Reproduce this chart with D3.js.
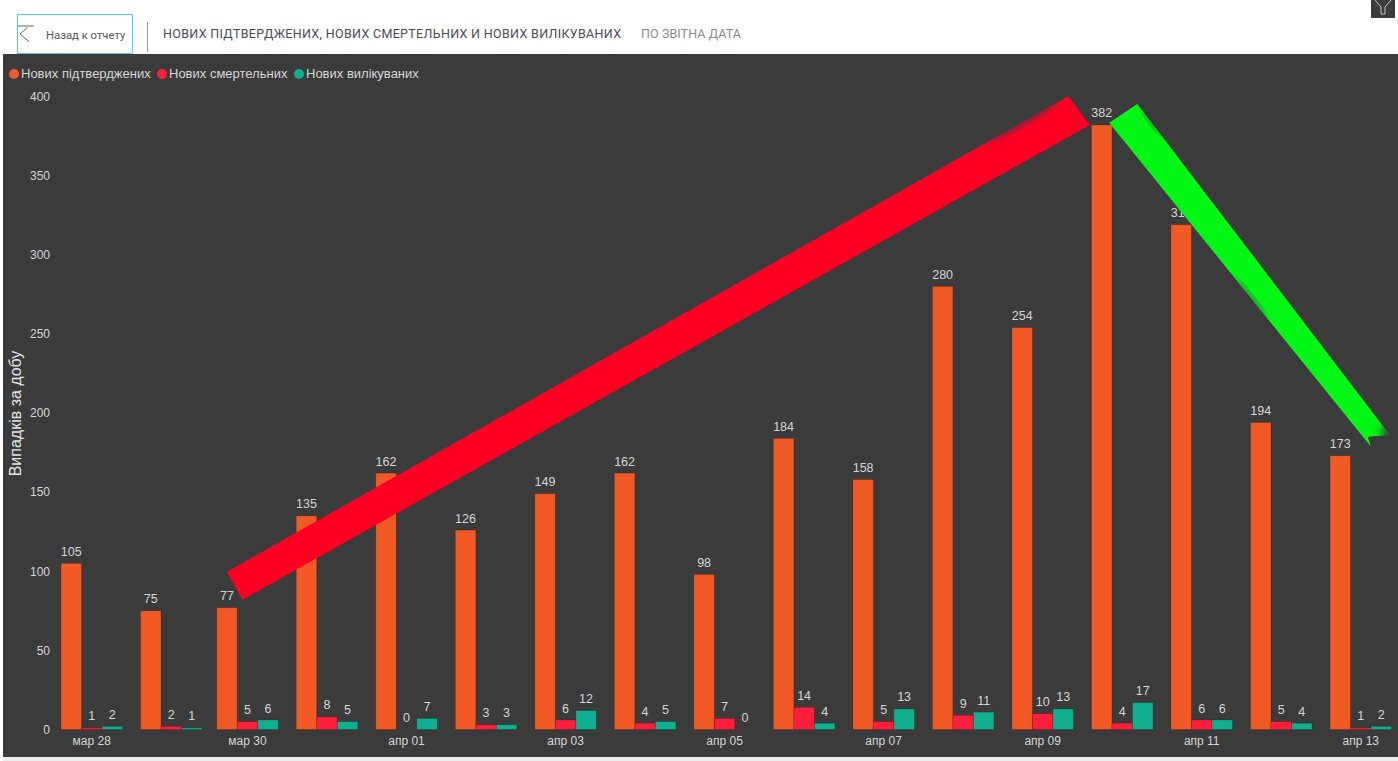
<!DOCTYPE html>
<html>
<head>
<meta charset="utf-8">
<title>Нових підтверджених, нових смертельних и нових вилікуваних</title>
<script src="https://cdn.jsdelivr.net/npm/d3@7"></script>
<style>
  html, body { margin: 0; padding: 0; background: #fff; overflow: hidden; }
  svg { display: block; }
</style>
</head>
<body>
<div id="wrapper"></div>
<script>
/* DATA */
// days carry the Kyiv utc offset: clocks moved on 29 Mar, so that day is 23h long
const days = [
  '2020-03-28T00:00:00+02:00', '2020-03-29T00:00:00+02:00',
  '2020-03-30T00:00:00+03:00', '2020-03-31T00:00:00+03:00',
  '2020-04-01T00:00:00+03:00', '2020-04-02T00:00:00+03:00',
  '2020-04-03T00:00:00+03:00', '2020-04-04T00:00:00+03:00',
  '2020-04-05T00:00:00+03:00', '2020-04-06T00:00:00+03:00',
  '2020-04-07T00:00:00+03:00', '2020-04-08T00:00:00+03:00',
  '2020-04-09T00:00:00+03:00', '2020-04-10T00:00:00+03:00',
  '2020-04-11T00:00:00+03:00', '2020-04-12T00:00:00+03:00',
  '2020-04-13T00:00:00+03:00',
];
const dayLabels = ['мар 28', '', 'мар 30', '', 'апр 01', '', 'апр 03', '', 'апр 05', '', 'апр 07', '', 'апр 09', '', 'апр 11', '', 'апр 13'];
const confirmed = [105, 75, 77, 135, 162, 126, 149, 162, 98, 184, 158, 280, 254, 382, 319, 194, 173];
const deaths = [1, 2, 5, 8, 0, 3, 6, 4, 7, 14, 5, 9, 10, 4, 6, 5, 1];
const recovered = [2, 1, 6, 5, 7, 3, 12, 5, 0, 4, 13, 11, 13, 17, 6, 4, 2];
const seriesNames = ['Нових підтверджених', 'Нових смертельних', 'Нових вилікуваних'];
const seriesColors = ['#f15a25', '#ff1f3d', '#0faf8f'];
const yTicks = [0, 50, 100, 150, 200, 250, 300, 350, 400];

/* CHART DIMENSIONS */
const dimensions = {
  width: 1398,
  height: 761,
  panel: { left: 3, top: 54, bottom: 757 },
  plot: { left: 61, right: 1330, top: 96.5, bottom: 729.5 },
  barWidth: 20.5,
};
const labelFont = '"Liberation Sans", Arial, sans-serif';
const headFont = 'Roboto, "Open Sans", sans-serif';
const labelColor = '#d6d6d6';

const dates = days.map(d => new Date(d));

/* SCALES */
const xScale = d3
  .scaleTime()
  .domain(d3.extent(dates))
  .range([dimensions.plot.left, dimensions.plot.right]);

const yScale = d3
  .scaleLinear()
  .domain([0, 400])
  .range([dimensions.plot.bottom, dimensions.plot.top]);

const svg = d3
  .select('#wrapper')
  .append('svg')
  .attr('width', dimensions.width)
  .attr('height', dimensions.height);

/* PAGE FRAME */
svg.append('rect')
  .attr('x', dimensions.panel.left)
  .attr('y', dimensions.panel.bottom)
  .attr('width', dimensions.width)
  .attr('height', dimensions.height - dimensions.panel.bottom)
  .attr('fill', '#ececec');

svg.append('rect')
  .attr('x', dimensions.panel.left)
  .attr('y', dimensions.panel.top)
  .attr('width', dimensions.width - dimensions.panel.left)
  .attr('height', dimensions.panel.bottom - dimensions.panel.top)
  .attr('fill', '#3b3b3b');

/* HEADER */
const header = svg.append('g');

header.append('rect')
  .attr('x', 17.5).attr('y', 14.5)
  .attr('width', 115).attr('height', 39)
  .attr('fill', '#fff')
  .attr('stroke', '#4fcbf2');

header.append('path')
  .attr('d', 'M18,26H34M27.5,27.5L20,34L29,41.5')
  .attr('fill', 'none')
  .attr('stroke', '#666');

header.append('text')
  .attr('x', 46).attr('y', 39)
  .attr('font-family', headFont)
  .attr('font-size', 11.3)
  .attr('fill', '#555')
  .text('Назад к отчету');

header.append('line')
  .attr('x1', 147.5).attr('x2', 147.5)
  .attr('y1', 22).attr('y2', 52)
  .attr('stroke', '#999');

header.append('text')
  .attr('x', 163).attr('y', 37.5)
  .attr('font-family', headFont)
  .attr('font-size', 12.5)
  .attr('textLength', 458)
  .attr('fill', '#4a4a55')
  .text('НОВИХ ПІДТВЕРДЖЕНИХ, НОВИХ СМЕРТЕЛЬНИХ И НОВИХ ВИЛІКУВАНИХ');

header.append('text')
  .attr('x', 641).attr('y', 37.5)
  .attr('font-family', headFont)
  .attr('font-size', 12.5)
  .attr('textLength', 100)
  .attr('fill', '#8a8a92')
  .text('ПО ЗВІТНА ДАТА');

// filter button, cut by the top of the window
header.append('rect')
  .attr('x', 1371).attr('y', 0)
  .attr('width', 24).attr('height', 18)
  .attr('fill', '#3b3b3b');

header.append('path')
  .attr('d', 'M1375,0L1381,7V14H1385V7L1391,0')
  .attr('fill', 'none')
  .attr('stroke', '#c4c4c4');

/* LEGEND */
const legendX = [14, 162, 299];
const legend = svg.append('g')
  .selectAll('g')
  .data(seriesNames)
  .enter()
  .append('g')
  .attr('transform', (d, i) => `translate(${legendX[i]}, 74)`);

legend.append('circle')
  .attr('r', 5)
  .attr('fill', (d, i) => seriesColors[i]);

legend.append('text')
  .attr('x', 7)
  .attr('y', 3.5)
  .attr('font-family', labelFont)
  .attr('font-size', 13)
  .attr('fill', labelColor)
  .text(d => d);

/* PERIPHERALS */
const yAxis = svg.append('g')
  .attr('transform', 'translate(50, 0)')
  .call(d3.axisLeft(yScale).tickValues(yTicks).tickSize(0).tickPadding(0));

const xAxisScale = xScale.copy().range([
  dimensions.plot.left + (dimensions.barWidth * 3) / 2 - 0.5,
  dimensions.plot.right + (dimensions.barWidth * 3) / 2 - 0.5,
]);

const xAxis = svg.append('g')
  .attr('transform', `translate(0, ${dimensions.plot.bottom + 4})`)
  .call(
    d3.axisBottom(xAxisScale)
      .tickValues(dates.filter((d, i) => dayLabels[i]))
      .tickFormat(d => dayLabels[dates.findIndex(e => +e === +d)])
      .tickSize(0)
      .tickPadding(3)
  );

[yAxis, xAxis].forEach(axis => {
  axis.select('.domain').remove();
  axis.selectAll('text')
    .attr('font-family', labelFont)
    .attr('font-size', 12)
    .attr('fill', labelColor);
});

svg.append('text')
  .attr('transform', 'translate(21, 413.5) rotate(-90)')
  .attr('text-anchor', 'middle')
  .attr('font-family', labelFont)
  .attr('font-size', 16)
  .attr('fill', '#e4e4e4')
  .text('Випадків за добу');

/* DRAW DATA */
const series = [confirmed, deaths, recovered];
const bounds = svg.append('g');

series.forEach((values, s) => {
  const group = bounds.append('g');
  const xOf = (d, i) => xScale(dates[i]) + s * dimensions.barWidth;

  group.selectAll('rect')
    .data(values)
    .enter()
    .append('rect')
    .attr('x', xOf)
    .attr('y', d => yScale(d))
    .attr('width', dimensions.barWidth)
    .attr('height', d => yScale(0) - yScale(d))
    .attr('fill', seriesColors[s])
    .attr('stroke', '#000')
    .attr('stroke-opacity', 0.18);

  group.selectAll('text')
    .data(values)
    .enter()
    .append('text')
    .attr('x', (d, i) => xOf(d, i) + dimensions.barWidth / 2)
    .attr('y', d => yScale(d) - 7.5)
    .attr('text-anchor', 'middle')
    .attr('font-family', labelFont)
    .attr('font-size', 12.5)
    .attr('fill', labelColor)
    .text(d => d);
});

/* ANNOTATION ARROWS, hand drawn over the chart in the original */
const defs = svg.append('defs');
defs.append('filter')
  .attr('id', 'soft')
  .attr('x', '-50%').attr('y', '-50%')
  .attr('width', '200%').attr('height', '200%')
  .append('feGaussianBlur')
  .attr('stdDeviation', 5);

function drawArrow(id, points, fill, shades) {
  defs.append('clipPath')
    .attr('id', id)
    .append('polygon')
    .attr('points', points);

  const arrow = svg.append('g').attr('clip-path', `url(#${id})`);
  arrow.append('polygon')
    .attr('points', points)
    .attr('fill', fill);

  // worn edges of the stroke
  arrow.selectAll('ellipse')
    .data(shades)
    .enter()
    .append('ellipse')
    .attr('transform', d => `translate(${d.x}, ${d.y}) rotate(${d.angle})`)
    .attr('rx', d => d.rx)
    .attr('ry', d => d.ry)
    .attr('fill', '#3b3b3b')
    .attr('filter', 'url(#soft)');
}

drawArrow(
  'redArrow',
  '226.7,571.7 1068.3,96 1090,125 242.3,600',
  '#ff0024',
  [{ x: 1022, y: 120, rx: 40, ry: 4, angle: -29.5 }]
);

drawArrow(
  'greenArrow',
  '1109,122.7 1137.3,103.7 1390,435 1368,437 1371,447',
  '#00f814',
  [
    { x: 1152, y: 122, rx: 16, ry: 2, angle: 52 },
    { x: 1251, y: 298, rx: 24, ry: 2, angle: 51 },
    { x: 1393, y: 436, rx: 13, ry: 10, angle: 52 },
  ]
);
</script>
</body>
</html>
